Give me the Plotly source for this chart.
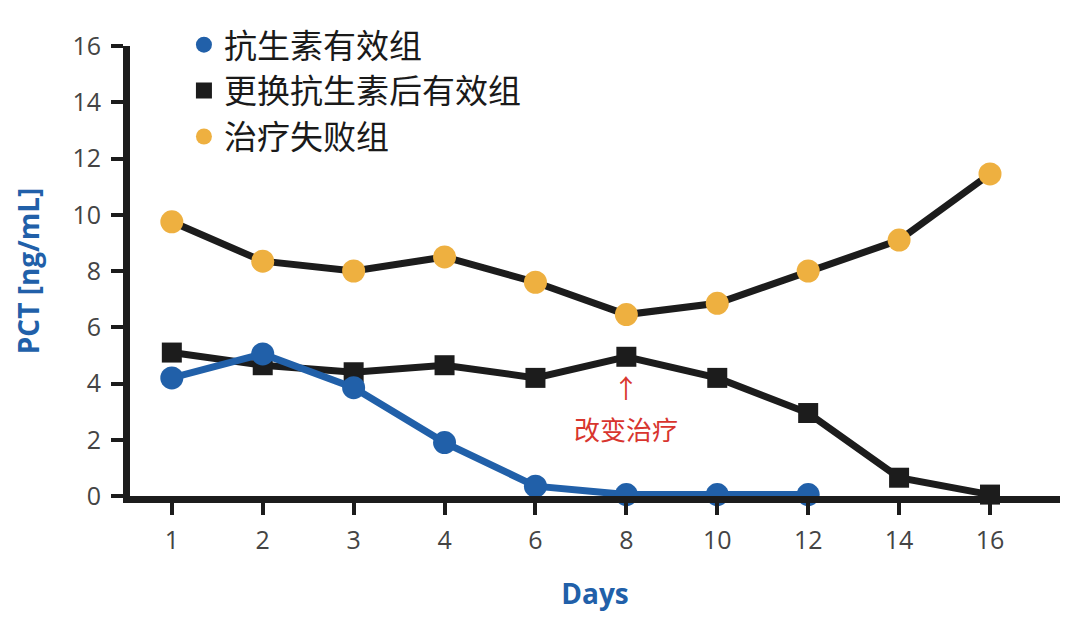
import plotly.graph_objects as go

days = ["1", "2", "3", "4", "6", "8", "10", "12", "14", "16"]
effective = [4.2, 5.05, 3.85, 1.9, 0.35, 0.05, 0.05, 0.05]
switched = [5.1, 4.65, 4.4, 4.65, 4.2, 4.95, 4.2, 2.95, 0.65, 0.05]
failed = [9.75, 8.35, 8.0, 8.5, 7.6, 6.45, 6.85, 8.0, 9.1, 11.45]
names = ["抗生素有效组", "更换抗生素后有效组", "治疗失败组"]
note_day = "8"
note_text = "改变治疗"

BLUE = "#2160a9"
BLACK = "#1c1c1c"
ORANGE = "#eeb040"
RED = "#d8352e"

fig = go.Figure()
fig.add_trace(go.Scatter(x=days, y=failed, mode="lines+markers", showlegend=False,
                         line=dict(color=BLACK, width=7),
                         marker=dict(color=ORANGE, size=23, symbol="circle"), cliponaxis=False))
fig.add_trace(go.Scatter(x=days, y=switched, mode="lines+markers", showlegend=False,
                         line=dict(color=BLACK, width=7),
                         marker=dict(color=BLACK, size=20, symbol="square"), cliponaxis=False))
fig.add_trace(go.Scatter(x=days[:len(effective)], y=effective, mode="lines+markers", showlegend=False,
                         line=dict(color=BLUE, width=7),
                         marker=dict(color=BLUE, size=23, symbol="circle"), cliponaxis=False))

# legend-only entries
for nm, col, sym in [(names[0], BLUE, "circle"), (names[1], BLACK, "square"), (names[2], ORANGE, "circle")]:
    fig.add_trace(go.Scatter(x=[None], y=[None], mode="markers", name=nm,
                             marker=dict(color=col, size=22, symbol=sym)))

xi = days.index(note_day)
fig.add_annotation(x=xi, y=3.9, text="↑", showarrow=False, yanchor="middle",
                   font=dict(color=RED, size=26, family="Noto Sans CJK SC"))
fig.add_annotation(x=xi, y=2.4, text=note_text, showarrow=False, yanchor="middle",
                   font=dict(color=RED, size=26, family="Noto Sans CJK SC"))

fig.update_layout(
    width=1080, height=621,
    margin=dict(l=130, r=20, t=46, b=125, autoexpand=False),
    paper_bgcolor="white", plot_bgcolor="white",
    font=dict(family="Open Sans", color="#444"),
    legend=dict(x=0.058, y=1.065, xanchor="left", yanchor="top",
                font=dict(size=33, family="Noto Sans CJK SC", color="#1a1a1a"),
                bgcolor="rgba(0,0,0,0)", itemsizing="trace", tracegroupgap=0),
    xaxis=dict(type="category", range=[-0.46, 9.77], showline=True, linecolor=BLACK, linewidth=7,
               ticks="outside", ticklen=12, tickwidth=4, tickcolor=BLACK, showgrid=False, zeroline=False,
               tickfont=dict(size=25, color="#444"), ticklabelstandoff=4,
               title=dict(text="<b>Days</b>", font=dict(size=28, color=BLUE), standoff=32)),
    yaxis=dict(range=[0, 16], dtick=2, showline=True, linecolor=BLACK, linewidth=7,
               ticks="outside", ticklen=12, tickwidth=4, tickcolor=BLACK, showgrid=False, zeroline=False,
               tickfont=dict(size=25, color="#444"), ticklabelstandoff=5,
               title=dict(text="<b>PCT [ng/mL]</b>", font=dict(size=28, color=BLUE), standoff=27)),
)

fig.write_html("out.html", config={"displayModeBar": False},
               post_script="document.body.style.margin='0';")
